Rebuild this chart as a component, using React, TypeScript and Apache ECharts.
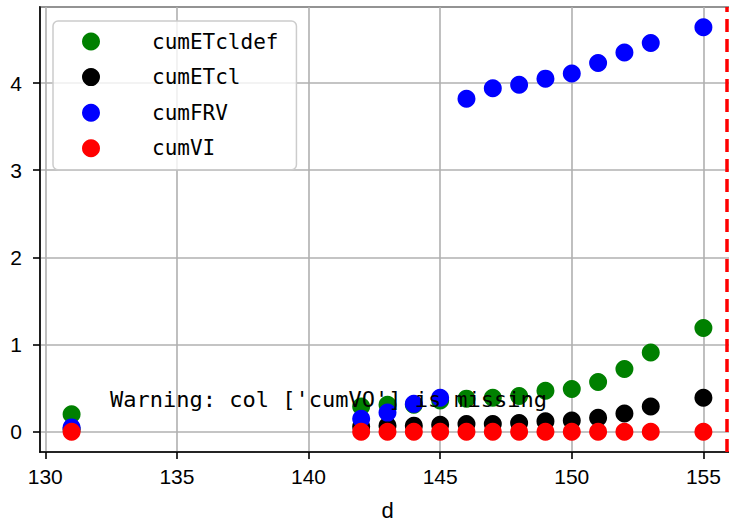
import React, { useEffect, useRef } from "react";
import * as echarts from "echarts";

const days = [131, 142, 143, 144, 145, 146, 147, 148, 149, 150, 151, 152, 153, 155];
const cumETcldef = [0.2, 0.29, 0.31, 0.31, 0.36, 0.38, 0.39, 0.41, 0.47, 0.49, 0.57, 0.72, 0.91, 1.19];
const cumETcl = [0.03, 0.06, 0.07, 0.07, 0.08, 0.09, 0.09, 0.1, 0.12, 0.13, 0.16, 0.21, 0.29, 0.39];
const cumFRV = [0.05, 0.15, 0.22, 0.32, 0.39, 3.82, 3.94, 3.98, 4.05, 4.11, 4.23, 4.35, 4.46, 4.64];
const cumVI = [0, 0, 0, 0, 0, 0, 0, 0, 0, 0, 0, 0, 0, 0];
const seriesNames = ["cumETcldef", "cumETcl", "cumFRV", "cumVI"];
const seriesColors = ["#008000", "#000000", "#0000ff", "#ff0000"];
const vlineX = 155.88;
const warningText = "Warning: col ['cumVO'] is missing";
const xAxisName = "d";

export default function App() {
  const ref = useRef<HTMLDivElement>(null);
  useEffect(() => {
    document.body.style.margin = "0";
    const chart = echarts.init(ref.current!, undefined, { renderer: "svg" });
    const values = [cumETcldef, cumETcl, cumFRV, cumVI];
    const series: any[] = values.map((vals, i) => ({
      name: seriesNames[i],
      type: "scatter",
      symbol: "circle",
      symbolSize: 18,
      itemStyle: { color: seriesColors[i], opacity: 1 },
      data: days.map((d, j) => [d, vals[j]]),
    }));
    series[3].markLine = {
      silent: true,
      symbol: "none",
      label: { show: false },
      lineStyle: { color: "#ff0000", type: [13, 7], width: 3.5 },
      data: [{ xAxis: vlineX }],
    };
    chart.setOption({
      animation: false,
      grid: {
        left: 40,
        top: 7,
        right: -6,
        bottom: 70,
        outerBoundsMode: "none",
        containLabel: false,
        show: true,
        borderColor: "#000",
        borderWidth: 1.6,
        backgroundColor: "transparent",
      },
      xAxis: {
        type: "value",
        min: 129.8,
        max: 156.2,
        splitNumber: 5,
        name: xAxisName,
        nameLocation: "middle",
        nameGap: 47,
        nameTextStyle: { fontFamily: "Liberation Sans", fontSize: 22, color: "#000" },
        axisLine: { onZero: false, lineStyle: { color: "#000", width: 1.6 } },
        axisTick: { show: true, length: 7, lineStyle: { color: "#000", width: 1.6 } },
        axisLabel: {
          showMinLabel: false,
          showMaxLabel: false,
          margin: 14,
          fontFamily: "Liberation Sans",
          fontSize: 21,
          color: "#000",
        },
        splitLine: { show: true, lineStyle: { color: "#b0b0b0", width: 1.6 } },
      },
      yAxis: {
        type: "value",
        min: -0.232,
        max: 4.872,
        splitNumber: 5,
        axisLine: { show: true, lineStyle: { color: "#000", width: 1.6 } },
        axisTick: { show: true, length: 7, lineStyle: { color: "#000", width: 1.6 } },
        axisLabel: {
          showMinLabel: false,
          showMaxLabel: false,
          margin: 18,
          fontFamily: "Liberation Sans",
          fontSize: 21,
          color: "#000",
        },
        splitLine: { show: true, lineStyle: { color: "#b0b0b0", width: 1.6 } },
      },
      legend: {
        orient: "vertical",
        left: 53,
        top: 21,
        padding: [10, 18, 11, 29],
        itemWidth: 18,
        itemHeight: 18,
        itemGap: 14.6,
        icon: "circle",
        backgroundColor: "rgba(255,255,255,0.8)",
        borderColor: "#cccccc",
        borderWidth: 1.5,
        borderRadius: 5,
        textStyle: {
          fontFamily: "DejaVu Sans Mono",
          fontSize: 21,
          lineHeight: 18,
          color: "#000",
          padding: [0, 0, 0, 47],
        },
        data: seriesNames,
      },
      graphic: [
        {
          type: "text",
          left: 110,
          top: 388,
          z: 100,
          style: {
            text: warningText,
            fontFamily: "DejaVu Sans Mono",
            fontSize: 22,
            fill: "#000",
          },
        },
      ],
      series,
    });
    return () => chart.dispose();
  }, []);
  return (
    <div
      ref={ref}
      style={{ position: "absolute", left: 0, top: 0, width: 729, height: 522 }}
    />
  );
}
